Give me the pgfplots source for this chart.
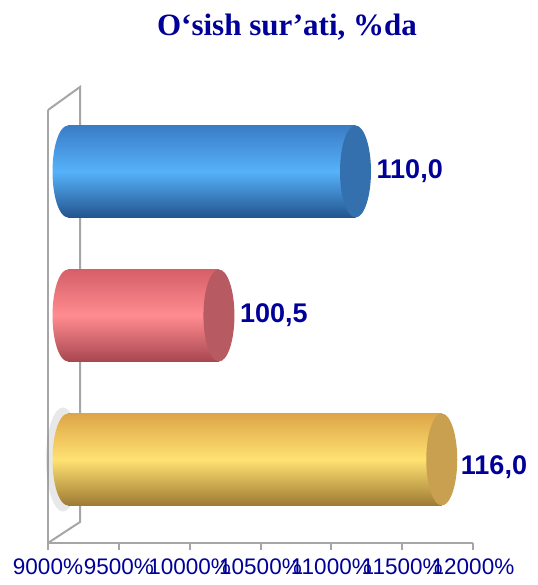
\documentclass[border=0pt]{standalone}
\usepackage{fontspec}
\setmainfont{Liberation Sans}
\newfontfamily\titlefont{Liberation Serif}
\usepackage{pgfplots}
\pgfplotsset{compat=1.18}
\usetikzlibrary{shapes.geometric}
\definecolor{navy}{HTML}{000099}
\definecolor{wallgray}{HTML}{A6A6A6}
\definecolor{bluetop}{HTML}{3A7CC6}
\definecolor{bluemid}{HTML}{56B2FA}
\definecolor{bluebot}{HTML}{23548E}
\definecolor{bluecap}{HTML}{3570AE}
\definecolor{redtop}{HTML}{D65E68}
\definecolor{redmid}{HTML}{FF8C90}
\definecolor{redbot}{HTML}{A84650}
\definecolor{redcap}{HTML}{B85A62}
\definecolor{yeltop}{HTML}{DDA548}
\definecolor{yelmid}{HTML}{FFE272}
\definecolor{yelbot}{HTML}{9E7A34}
\definecolor{yelcap}{HTML}{C9A050}
\pgfplotsset{
  capnode/.style={nodes near coords={}, only marks, mark=none,
    nodes near coords style={ellipse, inner sep=0pt, minimum width=31pt,
      minimum height=92pt, anchor=center, draw=none, #1}},
}
\begin{document}
\begin{tikzpicture}[x=1pt,y=1pt]
\useasboundingbox (0,0) rectangle (537,585);
\node[font=\titlefont\bfseries\fontsize{31}{34}\selectfont, text=navy] at (287,558) {O‘sish sur’ati, \%da};

% front plane: wall and x axis
\begin{axis}[
  at={(48pt,42pt)}, anchor=south west,
  scale only axis, width=425pt, height=433pt,
  xmin=90, xmax=120, ymin=0, ymax=1,
  axis x line*=bottom, axis y line*=left,
  axis line style={wallgray, line width=2pt, -},
  ytick=\empty,
  xtick={90,95,100,105,110,115,120},
  xticklabels={9000\%,9500\%,10000\%,10500\%,11000\%,11500\%,12000\%},
  tick align=outside, major tick length=7pt,
  tick style={wallgray, line width=2pt},
  x tick label style={font=\fontsize{22.5}{24}\selectfont, text=navy, inner sep=0pt, yshift=-9pt},
  clip=false,
]
\draw[wallgray, line width=2pt] (rel axis cs:0,1) -- ++(32pt,23pt) -- ++(0pt,-435pt) -- (rel axis cs:0,0);
\end{axis}

% bar plane
\begin{axis}[
  at={(68pt,53.5pt)}, anchor=south west,
  scale only axis, width=431.25pt, height=432pt,
  xmin=90, xmax=120, ymin=-0.5, ymax=2.5,
  hide axis, clip=true,
]
% yellow (bottom)
\addplot[capnode={fill=gray, opacity=0.18, minimum height=104pt, minimum width=34pt, xshift=-5pt}] coordinates {(90,0)};
\addplot[xbar, bar width=92pt, bar shift=0pt, draw=none, top color=yeltop, bottom color=yelbot, middle color=yelmid] coordinates {(116,0)};
\addplot[capnode={top color=yeltop, bottom color=yelbot, middle color=yelmid}] coordinates {(90,0)};
\addplot[capnode={fill=yelcap}] coordinates {(116,0)};
% red (middle)
\addplot[xbar, bar width=92pt, bar shift=0pt, draw=none, top color=redtop, bottom color=redbot, middle color=redmid] coordinates {(100.5,1)};
\addplot[capnode={top color=redtop, bottom color=redbot, middle color=redmid}] coordinates {(90,1)};
\addplot[capnode={fill=redcap}] coordinates {(100.5,1)};
% blue (top)
\addplot[xbar, bar width=92pt, bar shift=0pt, draw=none, top color=bluetop, bottom color=bluebot, middle color=bluemid] coordinates {(110,2)};
\addplot[capnode={top color=bluetop, bottom color=bluebot, middle color=bluemid}] coordinates {(90,2)};
\addplot[capnode={fill=bluecap}] coordinates {(110,2)};
% value labels
\addplot[only marks, mark=none, point meta=x,
  nodes near coords={\pgfmathprintnumber[fixed,fixed zerofill,precision=1,use comma,assume math mode=true]{\pgfplotspointmeta}},
  nodes near coords style={anchor=west, xshift=21pt, inner sep=0pt, font=\bfseries\fontsize{27}{30}\selectfont, text=navy}]
  coordinates {(110,2) (100.5,1)};
\addplot[only marks, mark=none, point meta=x,
  nodes near coords={\pgfmathprintnumber[fixed,fixed zerofill,precision=1,use comma,assume math mode=true]{\pgfplotspointmeta}},
  nodes near coords style={anchor=west, xshift=19pt, yshift=-8pt, inner sep=0pt, font=\bfseries\fontsize{27}{30}\selectfont, text=navy}]
  coordinates {(116,0)};
\end{axis}
\end{tikzpicture}
\end{document}
